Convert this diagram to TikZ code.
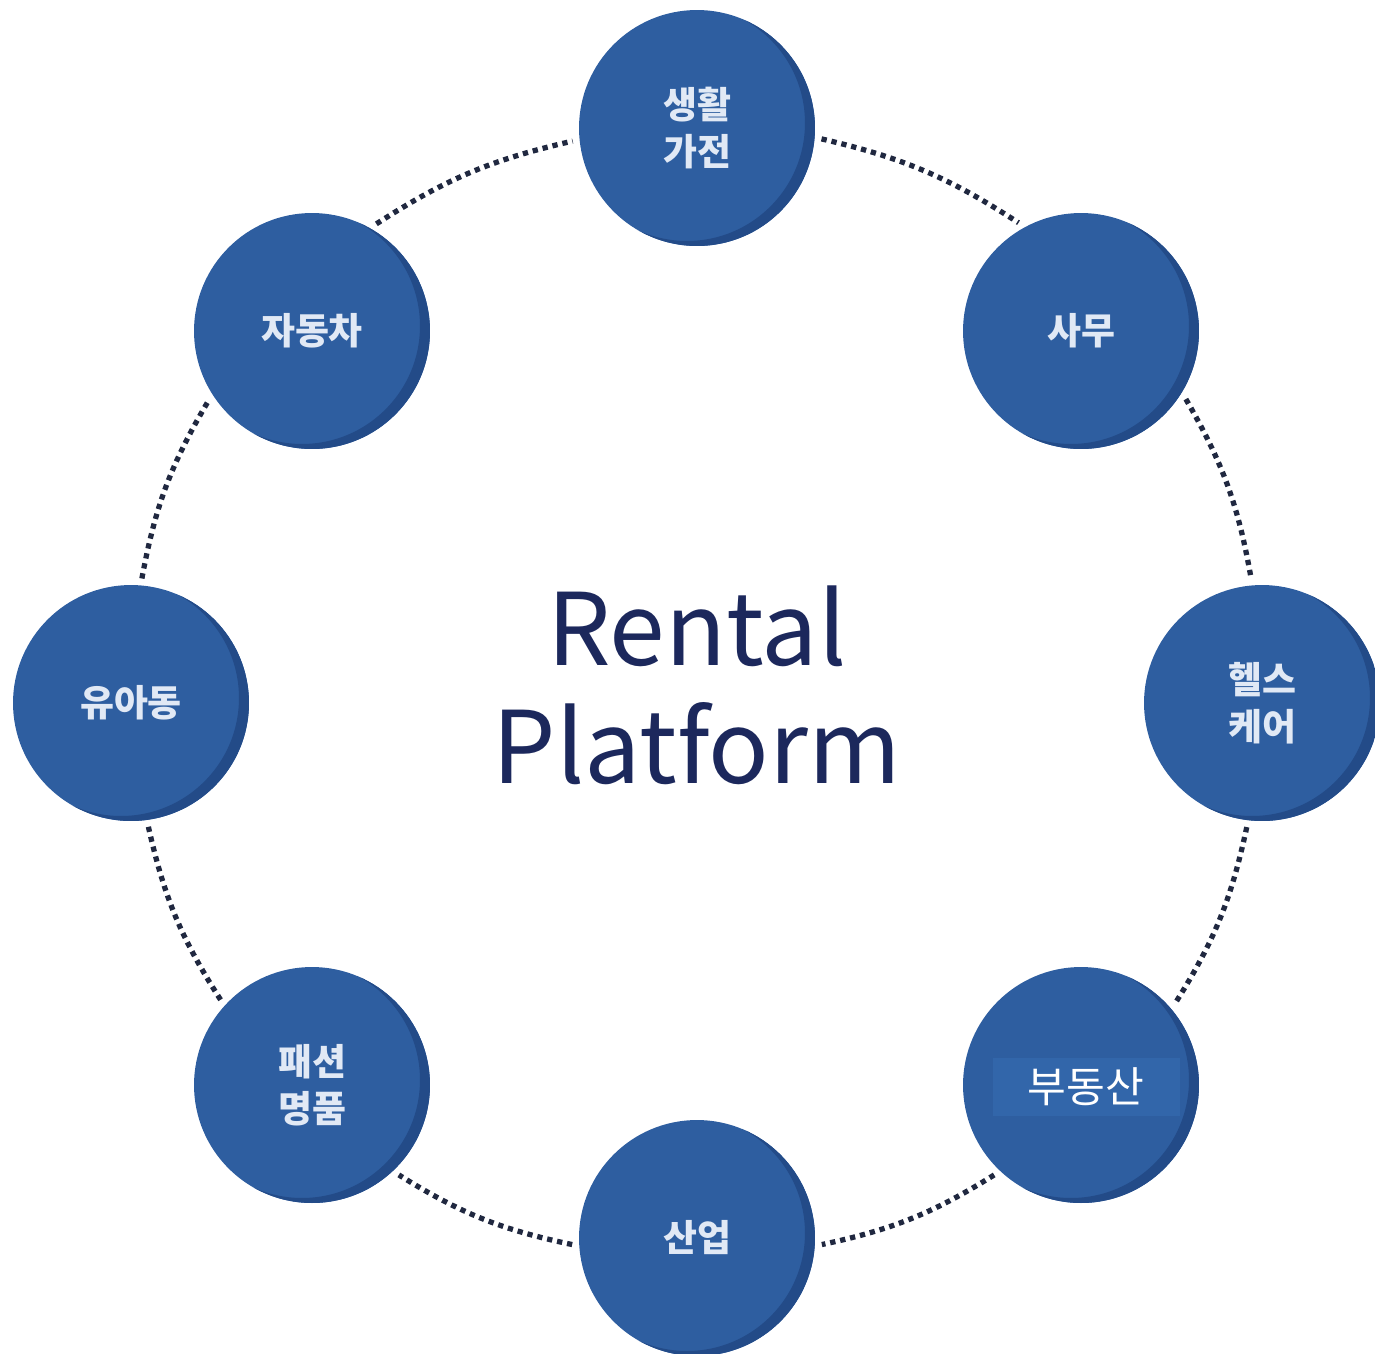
\documentclass[tikz,border=0pt]{standalone}
\usepackage{fontspec}
\newfontfamily\kr{Noto Sans CJK KR}
\usetikzlibrary{positioning}
\definecolor{ballblue}{RGB}{46,94,160}
\definecolor{balldark}{RGB}{35,75,136}
\definecolor{labeltext}{RGB}{225,233,245}
\definecolor{boxblue}{RGB}{50,102,170}
\definecolor{titleblue}{RGB}{28,40,92}
\definecolor{ringcol}{RGB}{32,40,64}
\tikzset{ball/.style={circle,fill=ballblue,minimum size=4.72cm,inner sep=0pt,outer sep=4pt,align=center,
    text=labeltext,font=\kr\bfseries\fontsize{21}{27}\selectfont,
    path picture={\fill[balldark,even odd rule] (path picture bounding box.center) circle (2.6cm)
      ([shift={(-0.2cm,0.1cm)}]path picture bounding box.center) circle (2.36cm);}}}
\tikzset{ring/.style={draw=ringcol,line width=3pt,dash pattern=on 3pt off 2.8pt,bend left=10}}

\begin{document}
\begin{tikzpicture}[x=0.02cm,y=0.02cm]
\useasboundingbox (0,0) rectangle (1375,-1353);
\node[ball] (gajeon) at (697,-128) {생활\\가전};
\node[ball] (samu) at (1081,-331) {사무};
\node[ball] (health) at (1262,-703) {헬스\\케어};
\node[ball] (budongsan) at (1081,-1085) {};
\node[fill=boxblue,text=white,font=\kr\fontsize{24}{28}\selectfont,minimum width=3.74cm,minimum height=1.16cm,inner sep=0pt] (budongsanlbl) at (1086,-1087) {부동산};
\node[ball] (saneop) at (697,-1238) {산업};
\node[ball] (fashion) at (312,-1085) {패션\\명품};
\node[ball] (yuadong) at (131,-703) {유아동};
\node[ball] (jadongcha) at (312,-331) {자동차};
\node[anchor=base,align=center,text=titleblue,font=\kr\fontsize{57}{67}\selectfont] (title) at (697,-783) {Rental\\Platform};
% dotted ring
\draw[ring] (gajeon.-5) to (samu.120);
\draw[ring] (samu.-33) to (health.95);
\draw[ring] (health.-97) to (budongsan.41);
\draw[ring] (budongsan.-134) to (saneop.-3);
\draw[ring] (saneop.183) to (fashion.-46);
\draw[ring] (fashion.137) to (yuadong.-82);
\draw[ring] (yuadong.85) to (jadongcha.214);
\draw[ring] (jadongcha.59) to (gajeon.186);
\end{tikzpicture}
\end{document}
